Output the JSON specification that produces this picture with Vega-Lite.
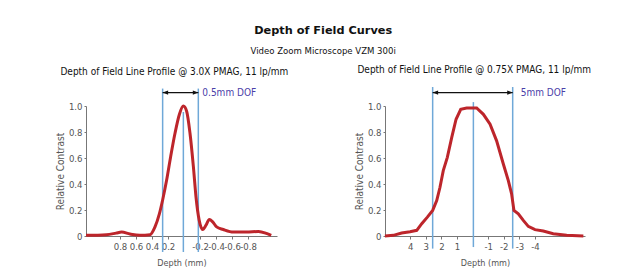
{
  "$schema": "https://vega.github.io/schema/vega-lite/v6.json",
  "background": "white",
  "padding": {"left": 55, "top": 25, "right": 5, "bottom": 0},
  "bounds": "flush",
  "title": {
    "text": "Depth of Field Curves",
    "subtitle": "Video Zoom Microscope VZM 300i",
    "anchor": "middle",
    "font": "DejaVu Sans",
    "fontSize": 11.3,
    "fontWeight": "bold",
    "color": "#111",
    "subtitleFont": "DejaVu Sans Condensed",
    "subtitleFontSize": 9.5,
    "subtitleFontWeight": "normal",
    "subtitleColor": "#111",
    "subtitlePadding": 9,
    "offset": 10
  },
  "datasets": {
    "left": [
      {"d": 1.225, "c": 0.005}, {"d": 0.97, "c": 0.01}, {"d": 0.85, "c": 0.022}, {"d": 0.78, "c": 0.03},
      {"d": 0.675, "c": 0.015}, {"d": 0.55, "c": 0.005}, {"d": 0.425, "c": 0.01}, {"d": 0.3625, "c": 0.07},
      {"d": 0.308, "c": 0.17}, {"d": 0.267, "c": 0.277}, {"d": 0.217, "c": 0.43}, {"d": 0.167, "c": 0.61},
      {"d": 0.1125, "c": 0.79}, {"d": 0.058, "c": 0.935}, {"d": 0.008, "c": 1.0}, {"d": -0.033, "c": 0.96},
      {"d": -0.075, "c": 0.79}, {"d": -0.117, "c": 0.535}, {"d": -0.15, "c": 0.3}, {"d": -0.19, "c": 0.12},
      {"d": -0.233, "c": 0.05}, {"d": -0.275, "c": 0.083}, {"d": -0.317, "c": 0.127}, {"d": -0.358, "c": 0.109},
      {"d": -0.408, "c": 0.07}, {"d": -0.49, "c": 0.05}, {"d": -0.617, "c": 0.03}, {"d": -0.78, "c": 0.03},
      {"d": -0.93, "c": 0.035}, {"d": -1.03, "c": 0.02}, {"d": -1.09, "c": 0.005}
    ],
    "leftRules": [
      {"d": 0.267, "top": 1.134, "bottom": -0.123},
      {"d": 0.008, "top": 0.954, "bottom": -0.123},
      {"d": -0.179, "top": 1.134, "bottom": -0.123}
    ],
    "leftArrow": [{"from": 0.267, "to": -0.179, "y": 1.103, "label": "0.5mm DOF"}],
    "right": [
      {"d": 5.62, "c": 0.0}, {"d": 5.08, "c": 0.005}, {"d": 4.55, "c": 0.023}, {"d": 4.01, "c": 0.033},
      {"d": 3.58, "c": 0.044}, {"d": 3.26, "c": 0.095}, {"d": 2.9, "c": 0.145}, {"d": 2.56, "c": 0.197},
      {"d": 2.3, "c": 0.273}, {"d": 2.09, "c": 0.375}, {"d": 1.88, "c": 0.503}, {"d": 1.62, "c": 0.605},
      {"d": 1.34, "c": 0.757}, {"d": 1.06, "c": 0.898}, {"d": 0.76, "c": 0.975}, {"d": 0.38, "c": 0.985},
      {"d": -0.26, "c": 0.985}, {"d": -0.69, "c": 0.936}, {"d": -1.12, "c": 0.86}, {"d": -1.54, "c": 0.732},
      {"d": -1.97, "c": 0.554}, {"d": -2.29, "c": 0.426}, {"d": -2.5, "c": 0.324}, {"d": -2.65, "c": 0.197},
      {"d": -2.93, "c": 0.171}, {"d": -3.25, "c": 0.12}, {"d": -3.57, "c": 0.074}, {"d": -4.0, "c": 0.049},
      {"d": -4.53, "c": 0.038}, {"d": -5.17, "c": 0.018}, {"d": -6.03, "c": 0.005}, {"d": -7.1, "c": 0.0}
    ],
    "rightRules": [
      {"d": 2.56, "top": 1.146, "bottom": -0.097},
      {"d": -0.05, "top": 1.03, "bottom": -0.085},
      {"d": -2.57, "top": 1.146, "bottom": -0.097}
    ],
    "rightArrow": [{"from": 2.56, "to": -2.57, "y": 1.103, "label": "5mm DOF"}]
  },
  "spacing": 108,
  "hconcat": [
    {
      "width": 191,
      "height": 130,
      "title": {"text": "Depth of Field Line Profile @ 3.0X PMAG, 11 lp/mm", "anchor": "start", "dx": 5, "offset": 11},
      "layer": [
        {
          "data": {"name": "leftRules"},
          "mark": {"type": "rule", "color": "#6fa8d8", "strokeWidth": 1.5},
          "encoding": {
            "x": {"field": "d", "type": "quantitative", "scale": {"domain": [1.225, -1.1625], "nice": false, "zero": false},
              "axis": {"values": [0.8, 0.6, 0.4, 0.2, -0.2, -0.4, -0.6, -0.8], "tickCount": 20, "title": "Depth (mm)", "labelOverlap": false,
                "labelExpr": "datum.value < 0 ? '-' + format(-datum.value, '.1f') : format(datum.value, '.1f')"}},
            "y": {"field": "top", "type": "quantitative", "scale": {"domain": [0, 1], "nice": false},
              "axis": {"values": [0, 0.2, 0.4, 0.6, 0.8, 1.0], "tickCount": 20, "title": "Relative Contrast", "labelOverlap": false,
                "labelExpr": "datum.value == 0 ? '0' : format(datum.value, '.1f')"}},
            "y2": {"field": "bottom"}
          }
        },
        {
          "data": {"name": "left"},
          "mark": {"type": "line", "color": "#bd252b", "strokeWidth": 3, "interpolate": "monotone"},
          "encoding": {
            "x": {"field": "d", "type": "quantitative"},
            "y": {"field": "c", "type": "quantitative"}
          }
        },
        {
          "data": {"name": "leftArrow"},
          "mark": {"type": "rule", "color": "#111", "strokeWidth": 1.2},
          "encoding": {
            "x": {"field": "from", "type": "quantitative"},
            "x2": {"field": "to"},
            "y": {"field": "y", "type": "quantitative"}
          }
        },
        {
          "data": {"name": "leftArrow"},
          "mark": {"type": "point", "shape": "M0,0L2,-0.8L2,0.8Z", "filled": true, "color": "#111", "size": 30, "opacity": 1},
          "encoding": {
            "x": {"field": "from", "type": "quantitative"},
            "y": {"field": "y", "type": "quantitative"}
          }
        },
        {
          "data": {"name": "leftArrow"},
          "mark": {"type": "point", "shape": "M0,0L-2,-0.8L-2,0.8Z", "filled": true, "color": "#111", "size": 30, "opacity": 1},
          "encoding": {
            "x": {"field": "to", "type": "quantitative"},
            "y": {"field": "y", "type": "quantitative"}
          }
        },
        {
          "data": {"name": "leftArrow"},
          "mark": {"type": "text", "align": "left", "baseline": "middle", "dx": 4, "color": "#4a40a8", "fontSize": 10,
            "font": "DejaVu Sans Condensed"},
          "encoding": {
            "x": {"field": "to", "type": "quantitative"},
            "y": {"field": "y", "type": "quantitative"},
            "text": {"field": "label"}
          }
        }
      ]
    },
    {
      "width": 200,
      "height": 130,
      "title": {"text": "Depth of Field Line Profile @ 0.75X PMAG, 11 lp/mm", "anchor": "start", "dx": 3, "offset": 11},
      "layer": [
        {
          "data": {"name": "rightRules"},
          "mark": {"type": "rule", "color": "#6fa8d8", "strokeWidth": 1.5},
          "encoding": {
            "x": {"field": "d", "type": "quantitative", "scale": {"domain": [5.615, -7.205], "nice": false, "zero": false},
              "axis": {"values": [4, 3, 2, 1, -1, -2, -3, -4], "tickCount": 20, "title": "Depth (mm)", "labelOverlap": false,
                "labelExpr": "datum.value < 0 ? '-' + format(-datum.value, 'd') : format(datum.value, 'd')"}},
            "y": {"field": "top", "type": "quantitative", "scale": {"domain": [0, 1], "nice": false},
              "axis": {"values": [0, 0.2, 0.4, 0.6, 0.8, 1.0], "tickCount": 20, "title": "Relative Contrast", "labelOverlap": false,
                "labelExpr": "datum.value == 0 ? '0' : format(datum.value, '.1f')"}},
            "y2": {"field": "bottom"}
          }
        },
        {
          "data": {"name": "right"},
          "mark": {"type": "line", "color": "#bd252b", "strokeWidth": 3, "interpolate": "linear"},
          "encoding": {
            "x": {"field": "d", "type": "quantitative"},
            "y": {"field": "c", "type": "quantitative"}
          }
        },
        {
          "data": {"name": "rightArrow"},
          "mark": {"type": "rule", "color": "#111", "strokeWidth": 1.2},
          "encoding": {
            "x": {"field": "from", "type": "quantitative"},
            "x2": {"field": "to"},
            "y": {"field": "y", "type": "quantitative"}
          }
        },
        {
          "data": {"name": "rightArrow"},
          "mark": {"type": "point", "shape": "M0,0L2,-0.8L2,0.8Z", "filled": true, "color": "#111", "size": 30, "opacity": 1},
          "encoding": {
            "x": {"field": "from", "type": "quantitative"},
            "y": {"field": "y", "type": "quantitative"}
          }
        },
        {
          "data": {"name": "rightArrow"},
          "mark": {"type": "point", "shape": "M0,0L-2,-0.8L-2,0.8Z", "filled": true, "color": "#111", "size": 30, "opacity": 1},
          "encoding": {
            "x": {"field": "to", "type": "quantitative"},
            "y": {"field": "y", "type": "quantitative"}
          }
        },
        {
          "data": {"name": "rightArrow"},
          "mark": {"type": "text", "align": "left", "baseline": "middle", "dx": 8, "color": "#4a40a8", "fontSize": 10,
            "font": "DejaVu Sans Condensed"},
          "encoding": {
            "x": {"field": "to", "type": "quantitative"},
            "y": {"field": "y", "type": "quantitative"},
            "text": {"field": "label"}
          }
        }
      ]
    }
  ],
  "config": {
    "view": {"stroke": null},
    "font": "DejaVu Sans Condensed",
    "title": {"font": "DejaVu Sans Condensed", "fontSize": 10, "fontWeight": "normal", "color": "#111"},
    "axis": {
      "grid": false,
      "domainColor": "#777",
      "domainWidth": 1,
      "tickColor": "#777",
      "tickSize": 3,
      "labelFont": "DejaVu Sans Condensed",
      "labelFontSize": 9.5,
      "labelColor": "#555",
      "labelPadding": 2,
      "titleFont": "DejaVu Sans Condensed",
      "titleFontSize": 9,
      "titleFontWeight": "normal",
      "titleColor": "#555"
    },
    "axisX": {"titlePadding": 8, "labelFlush": false},
    "axisY": {"titlePadding": 3, "tickSize": 2, "labelPadding": 2, "titleFontSize": 10}
  }
}
